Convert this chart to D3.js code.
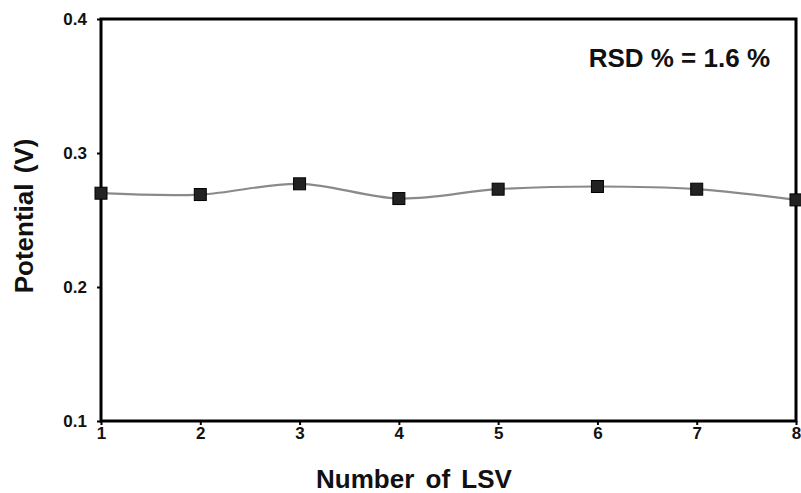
<!DOCTYPE html>
<html><head><meta charset="utf-8">
<script src="https://cdn.jsdelivr.net/npm/d3@7"></script>
<style>body{margin:0;background:#fff;}svg{display:block;font-family:Arial,"Liberation Sans",sans-serif;}</style>
</head><body><svg id="c" width="801" height="493"></svg>
<script>
const runs = [1, 2, 3, 4, 5, 6, 7, 8];
const potential = [0.270, 0.269, 0.277, 0.266, 0.273, 0.275, 0.273, 0.265];
const yTicks = [0.1, 0.2, 0.3, 0.4];
const xTitle = "Number of LSV";
const yTitle = "Potential (V)";
const note = "RSD % = 1.6 %";

const svg = d3.select("#c");
const L = 101, R = 796, T = 19, B = 421;
const x = d3.scaleLinear().domain([1, 8]).range([L, R]);
const y = d3.scaleLinear().domain([0.1, 0.4]).range([B, T]);

const gx = svg.append("g").attr("transform", `translate(0,${B})`)
  .call(d3.axisBottom(x).tickValues(runs).tickFormat(d3.format("d")).tickSize(4).tickPadding(2));
const gy = svg.append("g").attr("transform", `translate(${L},0)`)
  .call(d3.axisLeft(y).tickValues(yTicks).tickFormat(d3.format(".1f")).tickSize(4).tickPadding(10));
[gx, gy].forEach(g => {
  g.attr("font-size", 17).attr("font-family", "Arial, 'Liberation Sans', sans-serif");
  g.select(".domain").remove();
  g.selectAll("line").attr("stroke", "#000").attr("stroke-width", 2);
  g.selectAll("text").style("font-size", "17px").style("font-weight", "bold").attr("fill", "#111");
});

svg.append("rect").attr("x", L).attr("y", T).attr("width", R - L).attr("height", B - T)
  .attr("fill", "none").attr("stroke", "#000").attr("stroke-width", 3);

const line = d3.line().x((d, i) => x(runs[i])).y(d => y(d)).curve(d3.curveCatmullRom.alpha(0.5));
svg.append("path").datum(potential).attr("d", line).attr("fill", "none")
  .attr("stroke", "#8a8a8a").attr("stroke-width", 2.2);

const s = 12;
svg.selectAll("rect.pt").data(potential).enter().append("rect").attr("class", "pt")
  .attr("x", (d, i) => x(runs[i]) - s / 2).attr("y", d => y(d) - s / 2)
  .attr("width", s).attr("height", s).attr("fill", "#222").attr("stroke", "#000").attr("stroke-width", 1);

svg.append("text").attr("x", 414).attr("y", 488).attr("text-anchor", "middle")
  .style("font-size", "26px").style("font-weight", "bold").style("word-spacing", "4px").attr("fill", "#111").text(xTitle);
svg.append("text").attr("transform", `translate(33,216) rotate(-90)`).attr("text-anchor", "middle")
  .style("font-size", "26px").style("font-weight", "bold").style("word-spacing", "3px").attr("fill", "#111").text(yTitle);
svg.append("text").attr("x", 770).attr("y", 67).attr("text-anchor", "end")
  .style("font-size", "26px").style("font-weight", "bold").attr("fill", "#111").text(note);
</script></body></html>
